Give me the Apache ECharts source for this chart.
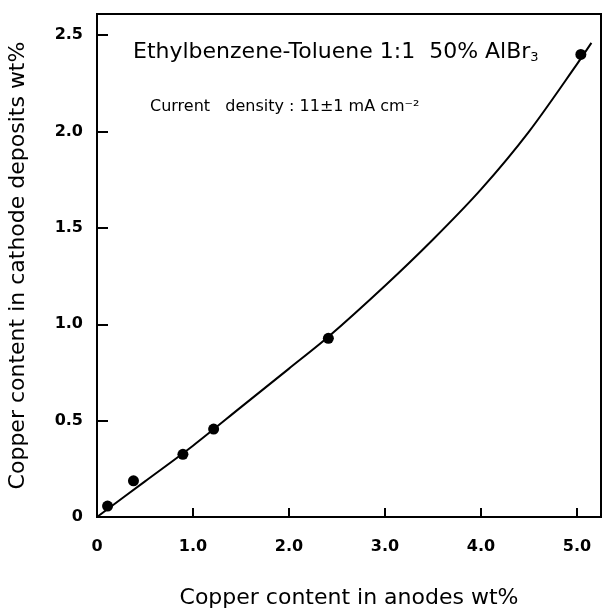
<!DOCTYPE html>
<html>
<head>
<meta charset="utf-8">
<script src="https://cdn.jsdelivr.net/npm/echarts@6/dist/echarts.min.js"></script>
<style>
html,body{margin:0;padding:0;background:#fff;}
#c{width:602px;height:613px;}
</style>
</head>
<body>
<div id="c"></div>
<script>
// Measured data points
var pointX = [0.11, 0.38, 0.895, 1.215, 2.41, 5.04];
var pointY = [0.057, 0.188, 0.325, 0.456, 0.927, 2.40];
// Fitted curve
var curveX = [0, 0.5, 1.0, 1.5, 2.0, 2.41, 3.0, 3.5, 4.0, 4.5, 5.0, 5.15];
var curveY = [0, 0.185, 0.37, 0.57, 0.77, 0.935, 1.20, 1.44, 1.70, 2.00, 2.35, 2.46];
// Tick labels
var xTicks = [0, 1, 2, 3, 4, 5];
var xTickLabels = ['0', '1.0', '2.0', '3.0', '4.0', '5.0'];
var yTicks = [0, 0.5, 1, 1.5, 2, 2.5];
var yTickLabels = ['0', '0.5', '1.0', '1.5', '2.0', '2.5'];

var pts = pointX.map(function (x, i) { return [x, pointY[i]]; });
var crv = curveX.map(function (x, i) { return [x, curveY[i]]; });

function lab(ticks, labels) {
  return function (v) {
    for (var i = 0; i < ticks.length; i++) if (Math.abs(ticks[i] - v) < 1e-6) return labels[i];
    return '';
  };
}

var font = 'DejaVu Sans';
var chart = echarts.init(document.getElementById('c'));
chart.setOption({
  animation: false,
  backgroundColor: '#fff',
  grid: {left: 97, right: 1, top: 14, bottom: 96, show: true, borderColor: '#000', borderWidth: 2,
         containLabel: false, outerBoundsMode: 'none'},
  graphic: [
    {type: 'text', left: 133, top: 41, silent: true, style: {
      text: '{a|Ethylbenzene-Toluene 1:1  50% AlBr}{s|3}',
      rich: {
        a: {fontFamily: font, fontSize: 22, fill: '#000'},
        s: {fontFamily: font, fontSize: 13, fill: '#000', verticalAlign: 'bottom', padding: [11, 0, 0, 0]}
      }
    }},
    {type: 'text', left: 150, top: 99, silent: true, style: {
      text: 'Current   density : 11±1 mA cm⁻²',
      fontFamily: font, fontSize: 16, fill: '#000'
    }}
  ],
  xAxis: {
    type: 'value', min: 0, max: 5.25,
    name: 'Copper content in anodes wt%', nameLocation: 'middle', nameGap: 70,
    nameTextStyle: {fontFamily: font, fontSize: 22, color: '#000'},
    axisLine: {show: true, lineStyle: {color: '#000', width: 2}},
    axisTick: {show: true, inside: true, length: 9, lineStyle: {color: '#000', width: 2}, customValues: xTicks},
    axisLabel: {fontFamily: font, fontSize: 16, fontWeight: 'bold', color: '#000', margin: 22, customValues: xTicks, formatter: lab(xTicks, xTickLabels)},
    splitLine: {show: false}
  },
  yAxis: {
    type: 'value', min: 0, max: 2.61,
    name: 'Copper content in cathode deposits wt%', nameLocation: 'middle', nameGap: 68,
    nameTextStyle: {fontFamily: font, fontSize: 22, color: '#000'},
    axisLine: {show: true, lineStyle: {color: '#000', width: 2}},
    axisTick: {show: true, inside: true, length: 11, lineStyle: {color: '#000', width: 2}, customValues: yTicks},
    axisLabel: {fontFamily: font, fontSize: 16, fontWeight: 'bold', color: '#000', margin: 14, customValues: yTicks, formatter: lab(yTicks, yTickLabels)},
    splitLine: {show: false}
  },
  series: [
    {type: 'line', data: crv, smooth: 0.3, showSymbol: false, lineStyle: {color: '#000', width: 2}, silent: true},
    {type: 'scatter', data: pts, symbol: 'circle', symbolSize: 11, itemStyle: {color: '#000', opacity: 1}}
  ]
});
</script>
</body>
</html>
